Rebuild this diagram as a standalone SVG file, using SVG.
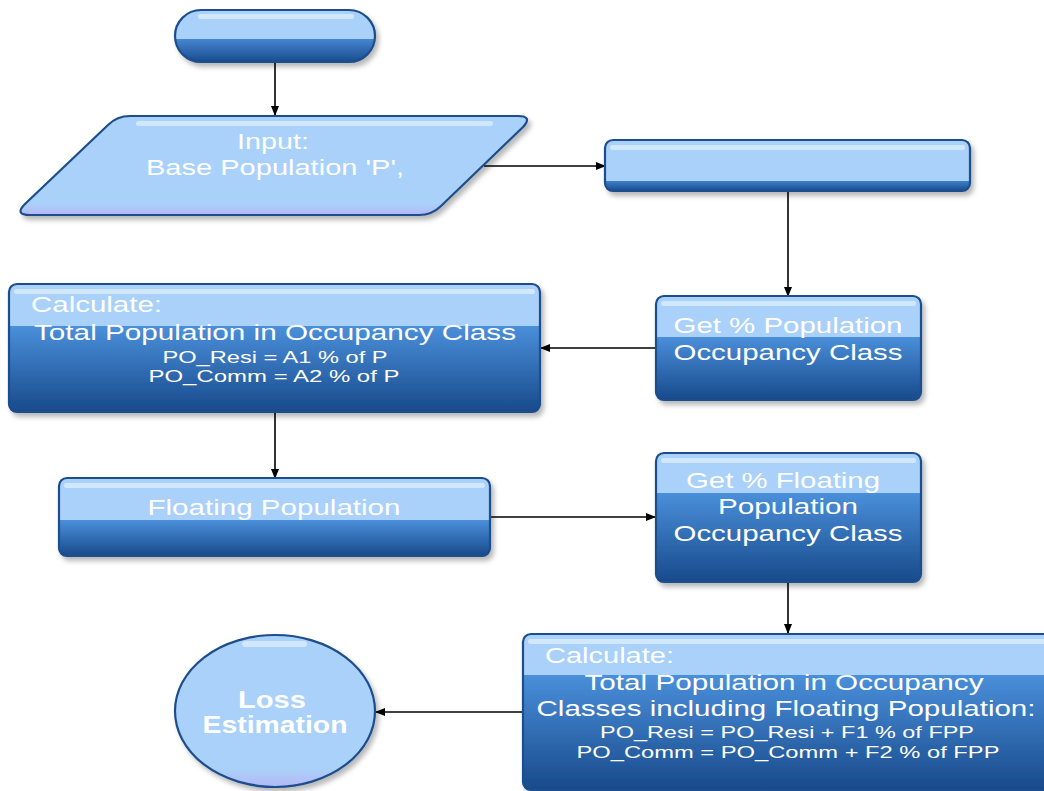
<svg xmlns="http://www.w3.org/2000/svg" width="1044" height="791" viewBox="0 0 1044 791">
<defs>
<style>
.bd{stroke:#1c4d8c;stroke-width:2.2}
.hl{fill:#d8ebfc;opacity:0.85}
.t{fill:#fff;font-family:"Liberation Sans",Arial,sans-serif;font-size:22px}
.s{fill:#fff;font-family:"Liberation Sans",Arial,sans-serif;font-size:17px}
.b{fill:#fff;font-family:"Liberation Sans",Arial,sans-serif;font-size:23px;font-weight:bold}
.c{text-anchor:middle}
.cn{stroke:#000;stroke-width:1.6;fill:none;marker-end:url(#ar)}
</style>
<filter id="sh" x="-5%" y="-5%" width="115%" height="125%">
<feDropShadow dx="3" dy="4" stdDeviation="2.5" flood-color="#000" flood-opacity="0.28"/>
</filter>
<marker id="ar" markerWidth="10" markerHeight="10" refX="9" refY="5" orient="auto" markerUnits="userSpaceOnUse">
<path d="M0,1 L10,5 L0,9 Z" fill="#000"/>
</marker>
<linearGradient id="gPill" x1="0" y1="0" x2="0" y2="1">
<stop offset="0" stop-color="#a9d1f9"/><stop offset="0.56" stop-color="#a9d1f9"/><stop offset="0.56" stop-color="#4586d1"/><stop offset="1" stop-color="#1a4b8d"/>
</linearGradient>
<linearGradient id="gB2" x1="0" y1="0" x2="0" y2="1">
<stop offset="0" stop-color="#a9d1f9"/><stop offset="0.8" stop-color="#a9d1f9"/><stop offset="0.8" stop-color="#3f7fc9"/><stop offset="1" stop-color="#1a4b8d"/>
</linearGradient>
<linearGradient id="gC1" x1="0" y1="0" x2="0" y2="1">
<stop offset="0" stop-color="#a9d1f9"/><stop offset="0.33" stop-color="#a9d1f9"/><stop offset="0.33" stop-color="#4a8fda"/><stop offset="1" stop-color="#184a8b"/>
</linearGradient>
<linearGradient id="gGP" x1="0" y1="0" x2="0" y2="1">
<stop offset="0" stop-color="#a9d1f9"/><stop offset="0.39" stop-color="#a9d1f9"/><stop offset="0.39" stop-color="#4a8fda"/><stop offset="1" stop-color="#184a8b"/>
</linearGradient>
<linearGradient id="gFP" x1="0" y1="0" x2="0" y2="1">
<stop offset="0" stop-color="#a9d1f9"/><stop offset="0.54" stop-color="#a9d1f9"/><stop offset="0.54" stop-color="#4a8fda"/><stop offset="1" stop-color="#184a8b"/>
</linearGradient>
<linearGradient id="gGF" x1="0" y1="0" x2="0" y2="1">
<stop offset="0" stop-color="#a9d1f9"/><stop offset="0.31" stop-color="#a9d1f9"/><stop offset="0.31" stop-color="#4a8fda"/><stop offset="1" stop-color="#184a8b"/>
</linearGradient>
<linearGradient id="gC2" x1="0" y1="0" x2="0" y2="1">
<stop offset="0" stop-color="#a9d1f9"/><stop offset="0.265" stop-color="#a9d1f9"/><stop offset="0.265" stop-color="#4a8fda"/><stop offset="1" stop-color="#184a8b"/>
</linearGradient>
<linearGradient id="gL" x1="0" y1="0" x2="0" y2="1">
<stop offset="0" stop-color="#a9d1f9"/><stop offset="0.88" stop-color="#a9d1f9"/><stop offset="1" stop-color="#b5b8f6"/>
</linearGradient>
</defs>
<rect width="1044" height="791" fill="#fff"/>

<g id="connectors">
<line class="cn" x1="275" y1="63" x2="275" y2="115"/>
<line class="cn" x1="484" y1="166" x2="605" y2="166"/>
<line class="cn" x1="788" y1="191" x2="788" y2="296"/>
<line class="cn" x1="656" y1="348" x2="541" y2="348"/>
<line class="cn" x1="275" y1="413" x2="275" y2="478"/>
<line class="cn" x1="491" y1="517" x2="655" y2="517"/>
<line class="cn" x1="788" y1="583" x2="788" y2="633"/>
<line class="cn" x1="523" y1="712" x2="376" y2="712"/>
</g>

<g id="start">
<rect class="bd" x="175" y="10" width="200" height="52" rx="26" fill="url(#gPill)" filter="url(#sh)"/>
<rect class="hl" x="198" y="14" width="156" height="5" rx="2.5"/>
</g>

<g id="input">
<path class="bd" d="M130,116 L518,116 Q533,116 523,127 L441,206 Q432,215 419,215 L30,215 Q14,215 25,204 L108,125 Q117,116 130,116 Z" fill="url(#gL)" filter="url(#sh)"/>
<rect class="hl" x="136" y="121" width="357" height="5" rx="2.5"/>
<text class="t c" x="273" y="149" textLength="72" lengthAdjust="spacingAndGlyphs">Input:</text>
<text class="t c" x="275" y="175" textLength="258" lengthAdjust="spacingAndGlyphs">Base Population 'P',</text>
</g>

<g id="box2">
<rect class="bd" x="605" y="140" width="365" height="51" rx="8" fill="url(#gB2)" filter="url(#sh)"/>
<rect class="hl" x="610" y="145" width="355" height="5" rx="2.5"/>
</g>

<g id="getPop">
<rect class="bd" x="656" y="296" width="265" height="104" rx="8" fill="url(#gGP)" filter="url(#sh)"/>
<rect class="hl" x="661" y="301" width="255" height="5" rx="2.5"/>
<text class="t c" x="788" y="333" textLength="229" lengthAdjust="spacingAndGlyphs">Get % Population</text>
<text class="t c" x="788" y="360" textLength="229" lengthAdjust="spacingAndGlyphs">Occupancy Class</text>
</g>

<g id="calc1">
<rect class="bd" x="9" y="284" width="531" height="128" rx="8" fill="url(#gC1)" filter="url(#sh)"/>
<rect class="hl" x="14" y="289" width="521" height="5" rx="2.5"/>
<text class="t" x="31" y="312" textLength="131" lengthAdjust="spacingAndGlyphs">Calculate:</text>
<text class="t c" x="275" y="340" textLength="482" lengthAdjust="spacingAndGlyphs">Total Population in Occupancy Class</text>
<text class="s c" x="275" y="363" textLength="225" lengthAdjust="spacingAndGlyphs">PO_Resi = A1 % of P</text>
<text class="s c" x="274" y="382" textLength="251" lengthAdjust="spacingAndGlyphs">PO_Comm = A2 % of P</text>
</g>

<g id="floating">
<rect class="bd" x="59" y="478" width="431" height="78" rx="8" fill="url(#gFP)" filter="url(#sh)"/>
<rect class="hl" x="64" y="483" width="421" height="5" rx="2.5"/>
<text class="t c" x="274" y="515" textLength="253" lengthAdjust="spacingAndGlyphs">Floating Population</text>
</g>

<g id="getFloat">
<rect class="bd" x="656" y="453" width="265" height="129" rx="8" fill="url(#gGF)" filter="url(#sh)"/>
<rect class="hl" x="661" y="458" width="255" height="5" rx="2.5"/>
<text class="t c" x="783" y="488" textLength="194" lengthAdjust="spacingAndGlyphs">Get % Floating</text>
<text class="t c" x="788" y="514" textLength="140" lengthAdjust="spacingAndGlyphs">Population</text>
<text class="t c" x="788" y="541" textLength="229" lengthAdjust="spacingAndGlyphs">Occupancy Class</text>
</g>

<g id="calc2">
<rect class="bd" x="523" y="634" width="535" height="156" rx="8" fill="url(#gC2)" filter="url(#sh)"/>
<rect class="hl" x="528" y="639" width="525" height="5" rx="2.5"/>
<text class="t" x="545" y="663" textLength="129" lengthAdjust="spacingAndGlyphs">Calculate:</text>
<text class="t c" x="784" y="690" textLength="399" lengthAdjust="spacingAndGlyphs">Total Population in Occupancy</text>
<text class="t c" x="786" y="716" textLength="499" lengthAdjust="spacingAndGlyphs">Classes including Floating Population:</text>
<text class="s c" x="787" y="738" textLength="374" lengthAdjust="spacingAndGlyphs">PO_Resi = PO_Resi + F1 % of FPP</text>
<text class="s c" x="788" y="758" textLength="423" lengthAdjust="spacingAndGlyphs">PO_Comm = PO_Comm + F2 % of FPP</text>
</g>

<g id="loss">
<ellipse class="bd" cx="275" cy="711" rx="100" ry="76" fill="url(#gL)" filter="url(#sh)"/>
<rect class="hl" x="242" y="641" width="65" height="6" rx="3"/>
<text class="b c" x="272" y="708" textLength="68" lengthAdjust="spacingAndGlyphs">Loss</text>
<text class="b c" x="275" y="733" textLength="145" lengthAdjust="spacingAndGlyphs">Estimation</text>
</g>
</svg>
